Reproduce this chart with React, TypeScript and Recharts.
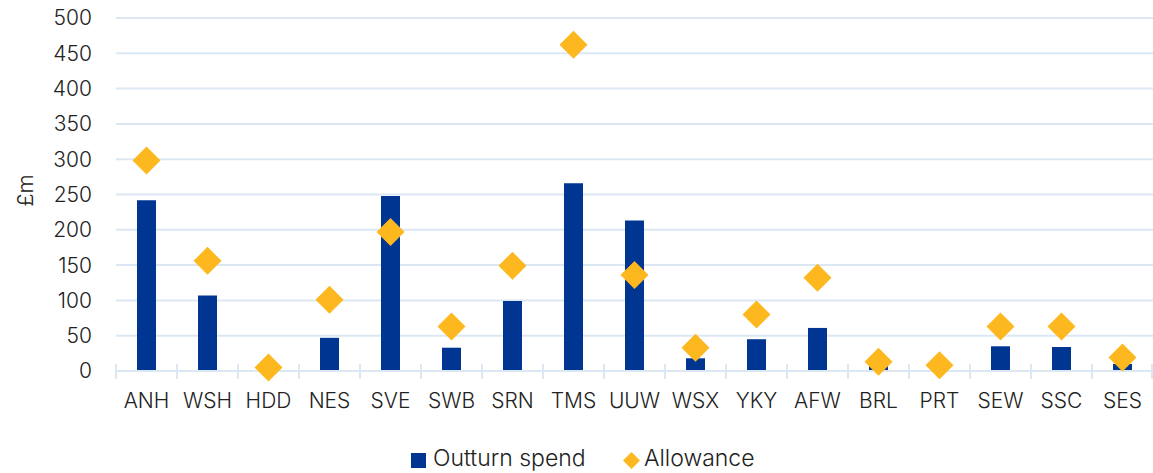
import { ComposedChart, Bar, Scatter, XAxis, YAxis, CartesianGrid } from 'recharts';

const companies = ['ANH', 'WSH', 'HDD', 'NES', 'SVE', 'SWB', 'SRN', 'TMS', 'UUW', 'WSX', 'YKY', 'AFW', 'BRL', 'PRT', 'SEW', 'SSC', 'SES'];
const outturnSpend = [242, 107, 3, 47, 248, 33, 99, 266, 213, 18, 45, 61, 10, 1, 35, 34, 10];
const allowance = [298, 156, 5, 101, 197, 63, 149, 462, 136, 33, 80, 132, 13, 8, 63, 63, 19];
const yTicks = [0, 50, 100, 150, 200, 250, 300, 350, 400, 450, 500];

const data = companies.map((name, i) => ({ name, spend: outturnSpend[i], allowance: allowance[i] }));

const W = 1153;
const H = 473;
const TOP = 18;
const Y_AXIS_W = 116;
const X_AXIS_H = 40;
const BOTTOM = 62;
const AXIS_Y = H - BOTTOM - X_AXIS_H;
const BAND = (W - Y_AXIS_W) / companies.length;

const BLUE = '#003591';
const GOLD = '#fdb71f';
const GRID = '#dbe8f3';
const TEXT = '#222';
const FONT = 'Inter, "Open Sans", sans-serif';

const Diamond = (props: any) => {
  const { cx, cy } = props;
  const r = 14;
  return <polygon points={`${cx},${cy - r} ${cx + r},${cy} ${cx},${cy + r} ${cx - r},${cy}`} fill={GOLD} />;
};

const XTick = (props: any) => {
  const { x, payload, index } = props;
  const left = x - BAND / 2;
  return (
    <g>
      <line x1={left} x2={left} y1={AXIS_Y - 7} y2={AXIS_Y + 8} stroke={GRID} strokeWidth={2} />
      {index === companies.length - 1 && (
        <line x1={x + BAND / 2 - 1} x2={x + BAND / 2 - 1} y1={AXIS_Y - 7} y2={AXIS_Y + 8} stroke={GRID} strokeWidth={2} />
      )}
      <text x={x} y={AXIS_Y + 37} textAnchor="middle" fill={TEXT} fontSize={21} fontWeight={300} fontFamily={FONT}>
        {payload.value}
      </text>
    </g>
  );
};

export default function App() {
  return (
    <div style={{ position: 'absolute', left: 0, top: 0, width: W, height: H, background: '#fff' }}>
      <ComposedChart width={W} height={H} data={data} margin={{ top: TOP, right: 0, bottom: BOTTOM, left: 0 }}>
        <CartesianGrid vertical={false} stroke={GRID} strokeWidth={2} />
        <XAxis
          dataKey="name"
          height={X_AXIS_H}
          axisLine={{ stroke: GRID, strokeWidth: 2 }}
          tickLine={false}
          tick={<XTick />}
          interval={0}
        />
        <YAxis
          width={Y_AXIS_W}
          domain={[0, 500]}
          ticks={yTicks}
          axisLine={false}
          tickLine={false}
          tickSize={0}
          tickMargin={24}
          tick={{ fill: TEXT, fontSize: 21, fontWeight: 300, fontFamily: FONT }}
          label={{
            content: (p: any) => {
              const vb = p.viewBox;
              const cy = vb.y + vb.height / 2 - 4;
              return (
                <text
                  x={25}
                  y={cy}
                  transform={`rotate(-90, 25, ${cy})`}
                  textAnchor="middle"
                  dominantBaseline="central"
                  fill={TEXT}
                  fontSize={22}
                  fontWeight={300}
                  fontFamily={FONT}
                >
                  £m
                </text>
              );
            },
          }}
        />
        <Bar dataKey="spend" name="Outturn spend" fill={BLUE} barSize={19} isAnimationActive={false} />
        <Scatter dataKey="allowance" name="Allowance" shape={<Diamond />} isAnimationActive={false} />
      </ComposedChart>
      <div style={{ position: 'absolute', left: 411, top: 453, width: 15, height: 15, background: BLUE }} />
      <div
        style={{
          position: 'absolute',
          left: 433,
          top: 444,
          fontFamily: FONT,
          fontSize: 23,
          fontWeight: 300,
          color: TEXT,
          whiteSpace: 'nowrap',
        }}
      >
        Outturn spend
      </div>
      <svg width={17} height={17} style={{ position: 'absolute', left: 623, top: 452 }}>
        <polygon points="8.5,0 17,8.5 8.5,17 0,8.5" fill={GOLD} />
      </svg>
      <div
        style={{
          position: 'absolute',
          left: 644,
          top: 444,
          fontFamily: FONT,
          fontSize: 23,
          fontWeight: 300,
          color: TEXT,
          whiteSpace: 'nowrap',
        }}
      >
        Allowance
      </div>
    </div>
  );
}
